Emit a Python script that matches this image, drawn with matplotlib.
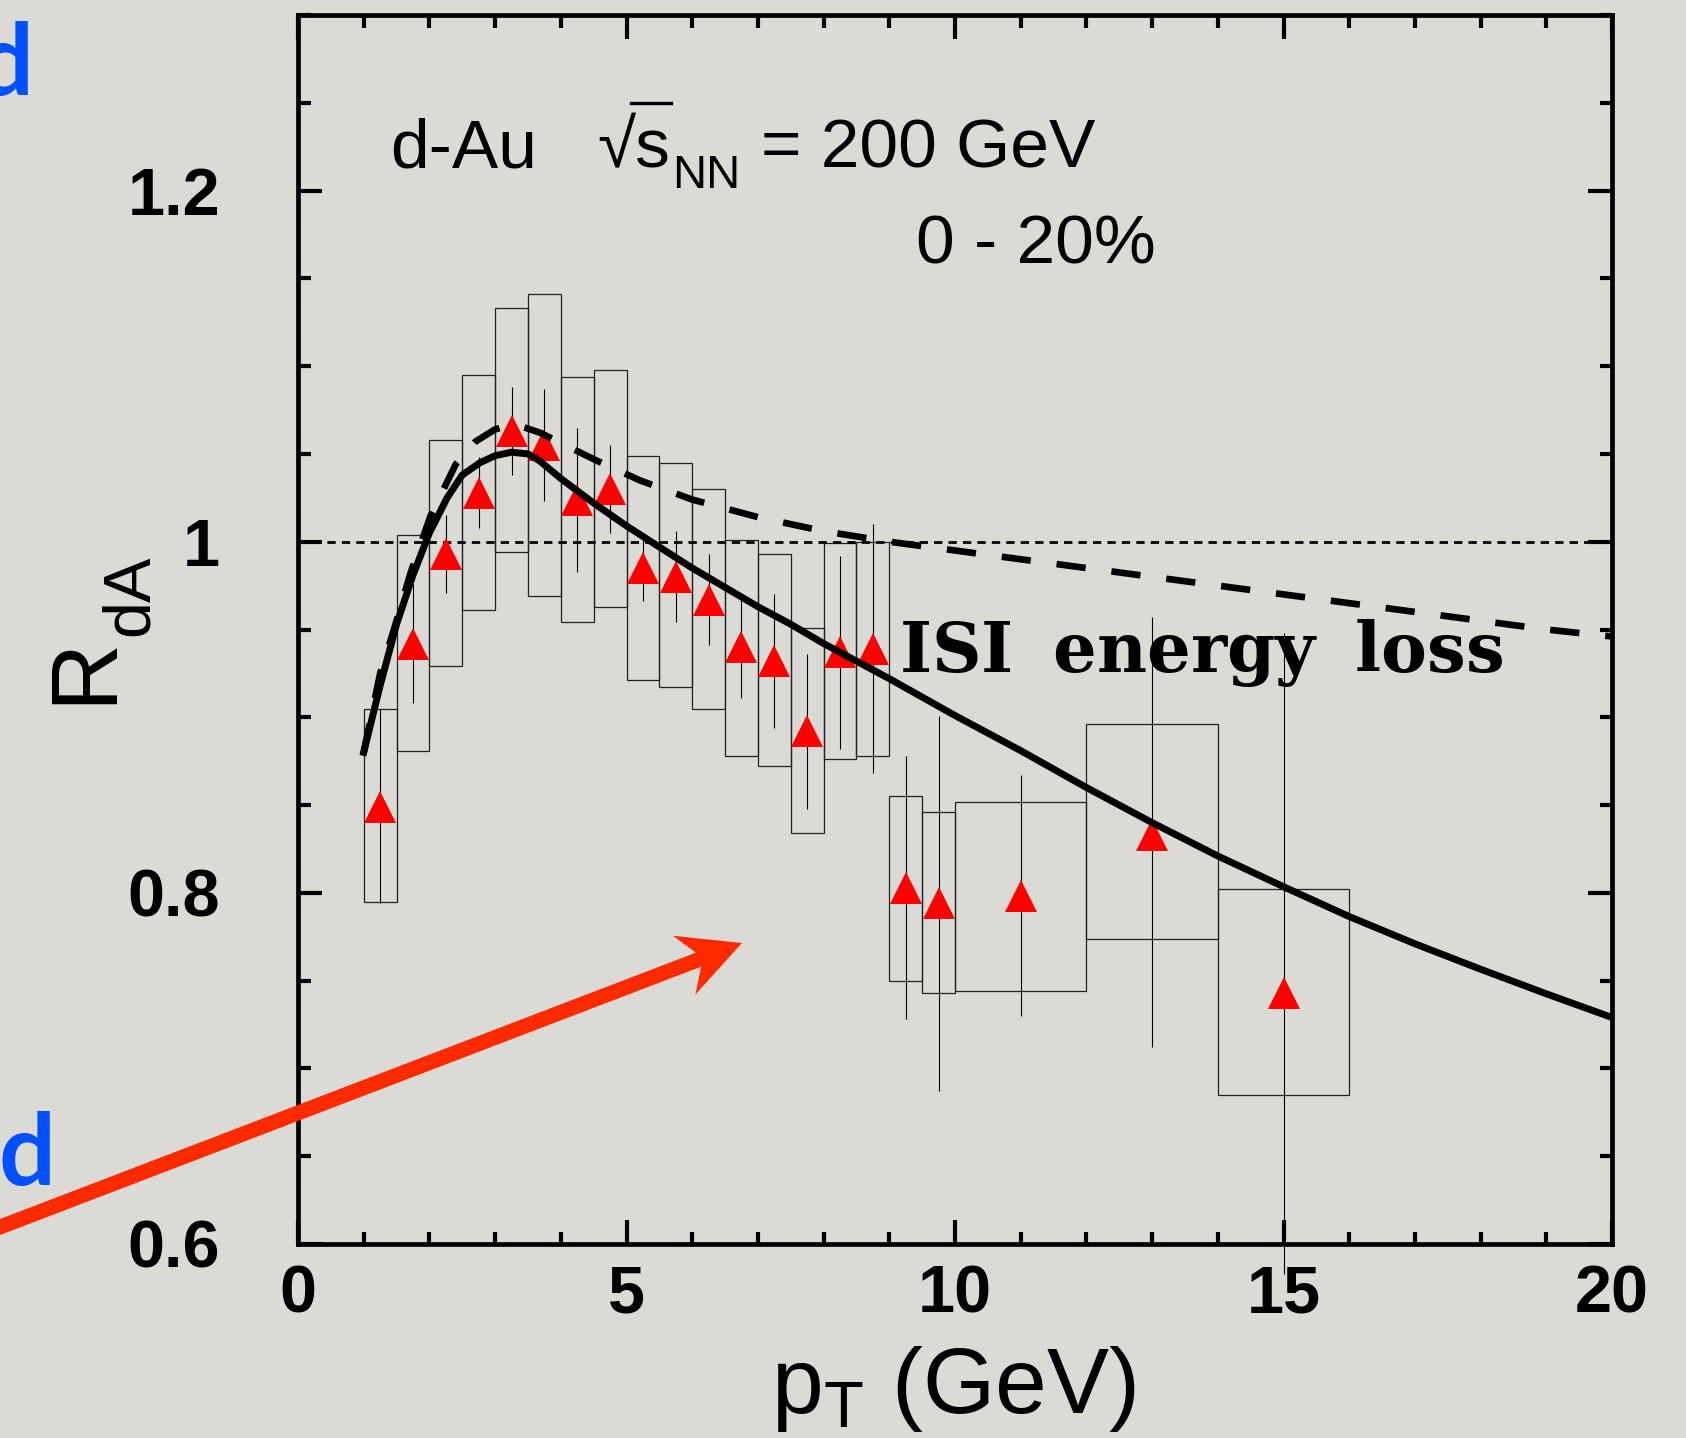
import matplotlib
matplotlib.use('Agg')
import matplotlib.pyplot as plt
import numpy as np
from matplotlib.patches import Rectangle, FancyArrow
from matplotlib.lines import Line2D
from matplotlib.ticker import MultipleLocator

plt.rcParams['font.family'] = ['Liberation Sans', 'DejaVu Sans']
plt.rcParams['mathtext.fontset'] = 'custom'
plt.rcParams['mathtext.rm'] = 'Liberation Sans'
plt.rcParams['mathtext.it'] = 'Liberation Sans:italic'
plt.rcParams['mathtext.bf'] = 'Liberation Sans:bold'
plt.rcParams['mathtext.default'] = 'regular'

# ---------------- data ----------------
pt = [1.25, 1.75, 2.25, 2.75, 3.25, 3.75, 4.25, 4.75, 5.25, 5.75, 6.25,
      6.75, 7.25, 7.75, 8.25, 8.75, 9.25, 9.75, 11.0, 13.0, 15.0]
rda = [0.849, 0.942, 0.993, 1.028, 1.063, 1.055, 1.024, 1.030, 0.985, 0.980,
       0.967, 0.940, 0.932, 0.892, 0.937, 0.939, 0.803, 0.794, 0.798, 0.833, 0.743]
stat_lo = [0.055, 0.034, 0.022, 0.020, 0.025, 0.032, 0.041, 0.025, 0.019, 0.026,
           0.026, 0.029, 0.038, 0.044, 0.055, 0.071, 0.075, 0.107, 0.068, 0.121, 0.160]
stat_hi = [0.056, 0.034, 0.022, 0.020, 0.025, 0.032, 0.041, 0.025, 0.019, 0.026,
           0.026, 0.029, 0.038, 0.044, 0.055, 0.071, 0.075, 0.107, 0.069, 0.124, 0.205]
sys_lo = [0.795, 0.881, 0.929, 0.961, 0.994, 0.969, 0.954, 0.963, 0.921, 0.917,
          0.905, 0.878, 0.872, 0.834, 0.876, 0.878, 0.750, 0.743, 0.744, 0.774, 0.685]
sys_hi = [0.905, 1.004, 1.058, 1.095, 1.133, 1.141, 1.094, 1.098, 1.049, 1.045,
          1.030, 1.001, 0.993, 0.951, 0.999, 1.000, 0.855, 0.846, 0.852, 0.896, 0.802]
bin_halfwidth = [0.25] * 18 + [1.0, 1.0, 1.0]

isi_pt = [1.0, 1.25, 1.5, 1.75, 2.0, 2.27, 2.5, 2.77, 3.0, 3.25, 3.5, 3.68, 4.0,
          4.5, 5.0, 5.5, 6.0, 6.5, 7.0, 7.5, 8.0, 8.5, 9.0, 10.0, 11.0,
          12.0, 13.0, 14.0, 15.0, 16.0, 17.0, 18.0, 19.0, 20.0]
isi_r = [0.880, 0.918, 0.953, 0.981, 1.005, 1.025, 1.038, 1.045, 1.049, 1.051,
         1.050, 1.046, 1.036, 1.022, 1.009, 0.997, 0.985, 0.974, 0.963, 0.953,
         0.942, 0.932, 0.922, 0.901, 0.881, 0.860, 0.840, 0.821, 0.8035,
         0.7865, 0.771, 0.7565, 0.7425, 0.729]

noel_pt = [1.0, 1.25, 1.46, 1.72, 2.02, 2.4, 2.7, 3.0, 3.3, 3.69, 4.5, 5.2, 6.0,
           7.0, 8.0, 9.0, 10.0, 11.0, 12.0, 13.0, 14.0, 15.0, 16.0, 17.0,
           18.0, 19.0, 20.0]
noel_r = [0.880, 0.925, 0.950, 0.983, 1.015, 1.044, 1.057, 1.064, 1.067, 1.062,
          1.047, 1.035, 1.024, 1.014, 1.006, 1.000, 0.995, 0.990, 0.985, 0.980,
          0.975, 0.970, 0.965, 0.960, 0.955, 0.950, 0.946]

xticks = [0, 5, 10, 15, 20]
xticklabels = ['0', '5', '10', '15', '20']
yticks = [0.6, 0.8, 1.0, 1.2]
yticklabels = ['0.6', '0.8', '1', '1.2']

# ---------------- figure ----------------
BG = '#dcdad5'
W, H = 1686, 1438
fig = plt.figure(figsize=(W / 100, H / 100), dpi=100, facecolor=BG)
ax = fig.add_axes([298 / W, 1 - 1244 / H, 1314 / W, 1229 / H])
ax.set_facecolor('none')
ax.set_xlim(0, 20)
ax.set_ylim(0.6, 1.3)

for p, hw, lo, hi in zip(pt, bin_halfwidth, sys_lo, sys_hi):
    ax.add_patch(Rectangle((p - hw, lo), 2 * hw, hi - lo, fill=False,
                           ec='#222222', lw=0.9, zorder=2))

pt_a = np.array(pt)
r_a = np.array(rda)
ax.vlines(pt_a, r_a - np.array(stat_lo), r_a + np.array(stat_hi),
          color='k', lw=0.8, zorder=2, clip_on=False)

ax.axhline(1.0, color='k', lw=2.0, dashes=(3.0, 2.2), zorder=3)

ax.plot(pt, rda, linestyle='none', marker='^', color='red', ms=23, mew=0,
        zorder=4)

ax.plot(isi_pt, isi_r, color='k', lw=5.0, zorder=5)
ax.plot(noel_pt, noel_r, color='k', lw=4.8, dashes=(4.4, 3.9), zorder=5)

# ticks
ax.set_xticks(xticks, xticklabels, fontweight='bold')
ax.set_yticks(yticks, yticklabels, fontweight='bold')
ax.xaxis.set_minor_locator(MultipleLocator(1))
ax.yaxis.set_minor_locator(MultipleLocator(0.05))
ax.tick_params(which='both', direction='in', top=True, right=True, width=3.0)
ax.tick_params(which='major', length=17.5)
ax.tick_params(which='minor', length=9)
ax.tick_params(axis='y', which='major', pad=56, labelsize=48)
ax.tick_params(axis='x', which='major', pad=15, labelsize=48)
for s in ax.spines.values():
    s.set_linewidth(3.4)


# texts (pixel positions converted to figure fractions)
def fx(px):
    return px / W


def fy(py):
    return 1 - py / H


fig.text(fx(390), fy(167), 'd-Au', fontsize=50, ha='left', va='baseline')
fig.text(fx(597), fy(167), '\u221as', fontsize=50, ha='left', va='baseline')
fig.add_artist(Line2D([fx(631), fx(671)], [fy(103), fy(103)], lw=2.4,
                      color='k', transform=fig.transFigure))
fig.text(fx(672), fy(188), 'NN', fontsize=34, ha='left', va='baseline')
fig.text(fx(761), fy(167), '= 200 GeV', fontsize=50, ha='left', va='baseline')
fig.text(fx(916), fy(263), '0 - 20%', fontsize=50, ha='left', va='baseline')
fig.text(fx(899), fy(672), r'$\mathbf{ISI\ \;energy\ \;loss}$',
         fontsize=49.5, ha='left', va='baseline', math_fontfamily='dejavuserif',
         zorder=6)

# y label R_dA
fig.text(fx(110), fy(704), 'R', rotation=90, rotation_mode='anchor',
         fontsize=68, ha='left', va='baseline')
fig.text(fx(148), fy(636), 'dA', rotation=90, rotation_mode='anchor',
         fontsize=48, ha='left', va='baseline')
# x label
fig.text(fx(953), fy(1413), r'p$_{T}$ (GeV)', fontsize=67,
         ha='center', va='baseline')

# slide decorations
fig.text(fx(33), fy(95), 'd', color='#0050ff', fontsize=72,
         fontweight='bold', family='Lato', ha='right', va='baseline')
fig.text(fx(55), fy(1185), 'd', color='#0050ff', fontsize=72,
         fontweight='bold', family='Lato', ha='right', va='baseline')

arrow = FancyArrow(-0.2, (H - 1234.7) / 100, 7.62, 2.917,
                   width=0.15, head_width=0.63, head_length=0.62,
                   length_includes_head=True, overhang=0.25,
                   color='#ff2a00', lw=0, transform=fig.dpi_scale_trans)
fig.add_artist(arrow)

fig.savefig('out.png', dpi=100, facecolor=BG)
